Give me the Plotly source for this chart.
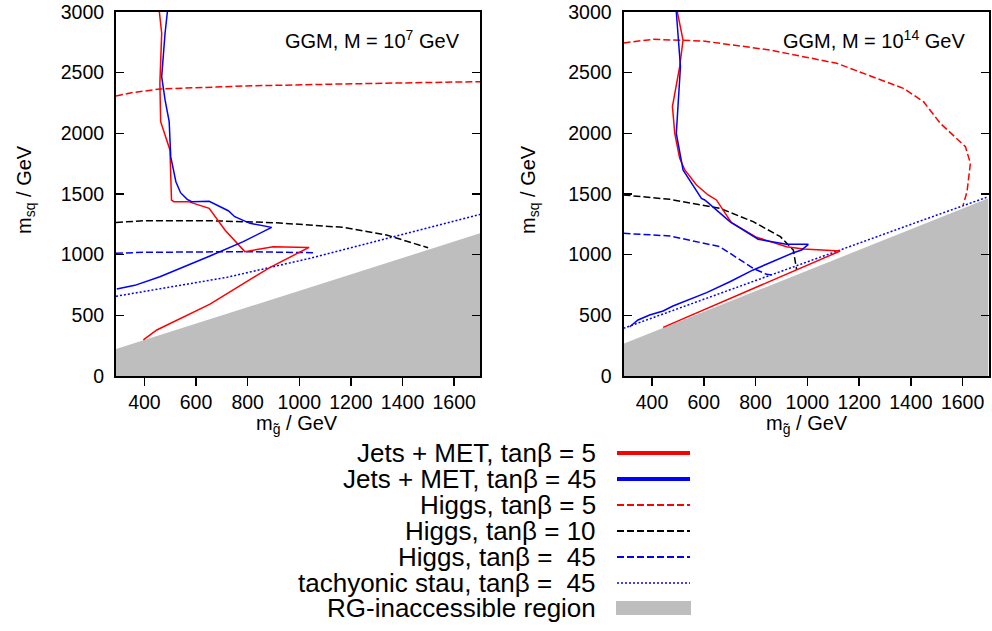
import plotly.graph_objects as go

W, H = 992, 631

# ---------------- data ----------------
# Left panel: GGM, M = 10^7 GeV
jm5_L_x = [458, 467, 460, 463, 499, 503, 505, 514, 570, 651, 712, 789, 899, 1038, 887, 654, 525, 448, 396]
jm5_L_y = [3000, 2825, 2415, 2096, 1863, 1478, 1450, 1437, 1437, 1382, 1203, 1025, 1066, 1060, 896, 593, 456, 379, 297]
jm45_L_x = [489, 480, 467, 480, 496, 502, 522, 540, 566, 583, 651, 725, 750, 809, 893, 783, 654, 564, 460, 363, 293]
jm45_L_y = [3000, 2825, 2467, 2275, 2096, 1808, 1601, 1511, 1456, 1437, 1440, 1362, 1313, 1258, 1225, 1107, 989, 907, 818, 747, 717]
h5_L_x = [290, 350, 460, 783, 1170, 1700]
h5_L_y = [2308, 2335, 2365, 2390, 2407, 2426]
h10_L_x = [290, 396, 654, 912, 1170, 1338, 1499]
h10_L_y = [1265, 1280, 1280, 1263, 1225, 1162, 1057]
h45_L_x = [290, 396, 783, 1054]
h45_L_y = [1011, 1019, 1025, 1016]
stau_L_x = [290, 434, 719, 1041, 1364, 1700]
stau_L_y = [657, 709, 813, 970, 1148, 1332]
rg_L_x = [290, 1700]
rg_L_y = [222, 1176]

# Right panel: GGM, M = 10^14 GeV
jm5_R_x = [498, 520, 507, 479, 488, 507, 527, 572, 617, 649, 707, 804, 920, 985, 1127, 443]
jm5_R_y = [3000, 2769, 2549, 2220, 2000, 1794, 1698, 1574, 1492, 1451, 1263, 1143, 1066, 1047, 1030, 401]
jm45_R_x = [494, 510, 494, 520, 591, 604, 701, 810, 920, 1004, 978, 946, 791, 701, 611, 481, 443, 391, 346, 314]
jm45_R_y = [3000, 2549, 2000, 1698, 1464, 1451, 1272, 1127, 1085, 1085, 1038, 1016, 874, 777, 687, 577, 536, 503, 462, 406]
h5_R_x = [290, 404, 597, 855, 1114, 1371, 1449, 1514, 1611, 1630, 1617, 1602]
h5_R_y = [2745, 2775, 2761, 2687, 2577, 2371, 2261, 2082, 1890, 1753, 1519, 1409]
h10_R_x = [290, 469, 662, 791, 896, 946, 959]
h10_R_y = [1492, 1456, 1382, 1272, 1148, 1038, 874]
h45_R_x = [290, 469, 662, 791, 843, 868]
h45_R_y = [1176, 1154, 1066, 887, 838, 832]
stau_R_x = [290, 662, 1049, 1436, 1700]
stau_R_y = [393, 681, 975, 1277, 1478]
rg_R_x = [290, 1700]
rg_R_y = [265, 1464]

x_ticks = [400, 600, 800, 1000, 1200, 1400, 1600]
y_ticks = [0, 500, 1000, 1500, 2000, 2500, 3000]

legend_labels = [
    "Jets + MET, tanβ = 5",
    "Jets + MET, tanβ = 45",
    "Higgs, tanβ = 5",
    "Higgs, tanβ = 10",
    "Higgs, tanβ =  45",
    "tachyonic stau, tanβ =  45",
    "RG-inaccessible region",
]

RED, BLUE, BLACK, GRAY = "#ff0000", "#0000ff", "#000000", "#bebebe"
DASH = "7px,3px"
DOT = "2px,2px"
FONT = "Liberation Sans, Arial, sans-serif"

fig = go.Figure()


def add_panel(ax, rgx, rgy, curves):
    xa = "x" if ax == 1 else "x2"
    ya = "y" if ax == 1 else "y2"
    fx = list(rgx) + [rgx[-1], rgx[0]]
    fy = list(rgy) + [0, 0]
    fig.add_trace(go.Scatter(x=fx, y=fy, fill="toself", fillcolor=GRAY,
                             line=dict(width=0, color=GRAY), mode="lines",
                             xaxis=xa, yaxis=ya, showlegend=False, hoverinfo="skip"))
    for cx, cy, col, dash in curves:
        fig.add_trace(go.Scatter(x=cx, y=cy, mode="lines",
                                 line=dict(color=col, width=1.5, dash=dash),
                                 xaxis=xa, yaxis=ya, showlegend=False, hoverinfo="skip"))


add_panel(1, rg_L_x, rg_L_y, [
    (h5_L_x, h5_L_y, RED, DASH),
    (h10_L_x, h10_L_y, BLACK, DASH),
    (h45_L_x, h45_L_y, BLUE, DASH),
    (stau_L_x, stau_L_y, BLUE, DOT),
    (jm5_L_x, jm5_L_y, RED, "solid"),
    (jm45_L_x, jm45_L_y, BLUE, "solid"),
])
add_panel(2, rg_R_x, rg_R_y, [
    (h5_R_x, h5_R_y, RED, DASH),
    (h10_R_x, h10_R_y, BLACK, DASH),
    (h45_R_x, h45_R_y, BLUE, DASH),
    (stau_R_x, stau_R_y, BLUE, DOT),
    (jm5_R_x, jm5_R_y, RED, "solid"),
    (jm45_R_x, jm45_R_y, BLUE, "solid"),
])


def px(x):
    return x / W


def py(y):
    return 1 - y / H


ydom = [py(376), py(12)]
xcommon = dict(range=[290, 1700], tickvals=x_ticks, ticks="outside", ticklen=8,
               tickwidth=1.5, tickcolor="black", showline=True, linewidth=2,
               linecolor="black", mirror=True, showgrid=False, zeroline=False,
               automargin=False, ticklabeloverflow="allow",
               tickfont=dict(size=19.5, color="black", family=FONT))
ycommon = dict(range=[0, 3000], tickvals=y_ticks, ticks="inside", ticklen=8,
               tickwidth=1.5, tickcolor="black", showline=True, linewidth=2,
               linecolor="black", mirror="ticks", showgrid=False, zeroline=False,
               automargin=False, ticklabelstandoff=6, ticklabeloverflow="allow",
               tickfont=dict(size=19.5, color="black", family=FONT))

fig.update_layout(
    width=W, height=H,
    margin=dict(l=0, r=0, t=0, b=0, autoexpand=False),
    paper_bgcolor="white", plot_bgcolor="white",
    showlegend=False,
    font=dict(family=FONT, color="black"),
    xaxis=dict(domain=[px(116), px(480)], anchor="y", **xcommon),
    yaxis=dict(domain=ydom, anchor="x", **ycommon),
    xaxis2=dict(domain=[px(623.5), px(988.5)], anchor="y2", **xcommon),
    yaxis2=dict(domain=ydom, anchor="x2", **ycommon),
)

ann = []
for cx in (25, 529):
    ann.append(dict(x=px(cx), y=py(190), xref="paper", yref="paper",
                    text="m<sub>sq</sub> / GeV", textangle=-90, showarrow=False,
                    font=dict(size=20, family=FONT, color="black"),
                    xanchor="center", yanchor="middle"))
for cx in (297, 807):
    ann.append(dict(x=px(cx), y=py(424), xref="paper", yref="paper",
                    text="m<sub>g̃</sub> / GeV", showarrow=False,
                    font=dict(size=20, family=FONT, color="black"),
                    xanchor="center", yanchor="middle"))
ann.append(dict(x=px(462), y=py(40), xref="paper", yref="paper",
                text="GGM, M = 10<sup>7</sup> GeV", showarrow=False,
                font=dict(size=20, family=FONT, color="black"),
                xanchor="right", yanchor="middle"))
ann.append(dict(x=px(967), y=py(40), xref="paper", yref="paper",
                text="GGM, M = 10<sup>14</sup> GeV", showarrow=False,
                font=dict(size=20, family=FONT, color="black"),
                xanchor="right", yanchor="middle"))

rows = [453, 479, 505, 531, 557, 583, 608]
styles = [(RED, "solid", 4), (BLUE, "solid", 4), (RED, DASH, 2), (BLACK, DASH, 2),
          (BLUE, DASH, 2), (BLUE, DOT, 1.5), None]
shapes = []
for lab, ry, st in zip(legend_labels, rows, styles):
    ann.append(dict(x=px(598), y=py(ry), xref="paper", yref="paper", text=lab,
                    showarrow=False, font=dict(size=26, family=FONT, color="black"),
                    xanchor="right", yanchor="middle"))
    if st is None:
        shapes.append(dict(type="rect", xref="paper", yref="paper",
                           x0=px(616), x1=px(691), y0=py(ry - 7), y1=py(ry + 7),
                           fillcolor=GRAY, line=dict(width=0)))
    else:
        col, dash, lw = st
        shapes.append(dict(type="line", xref="paper", yref="paper",
                           x0=px(617), x1=px(690), y0=py(ry), y1=py(ry),
                           line=dict(color=col, width=lw, dash=dash)))

fig.update_layout(annotations=ann, shapes=shapes)
fig.write_html("out.html",
               config={"displayModeBar": False, "staticPlot": True},
               post_script="document.body.style.margin='0px';document.body.style.padding='0px';")
